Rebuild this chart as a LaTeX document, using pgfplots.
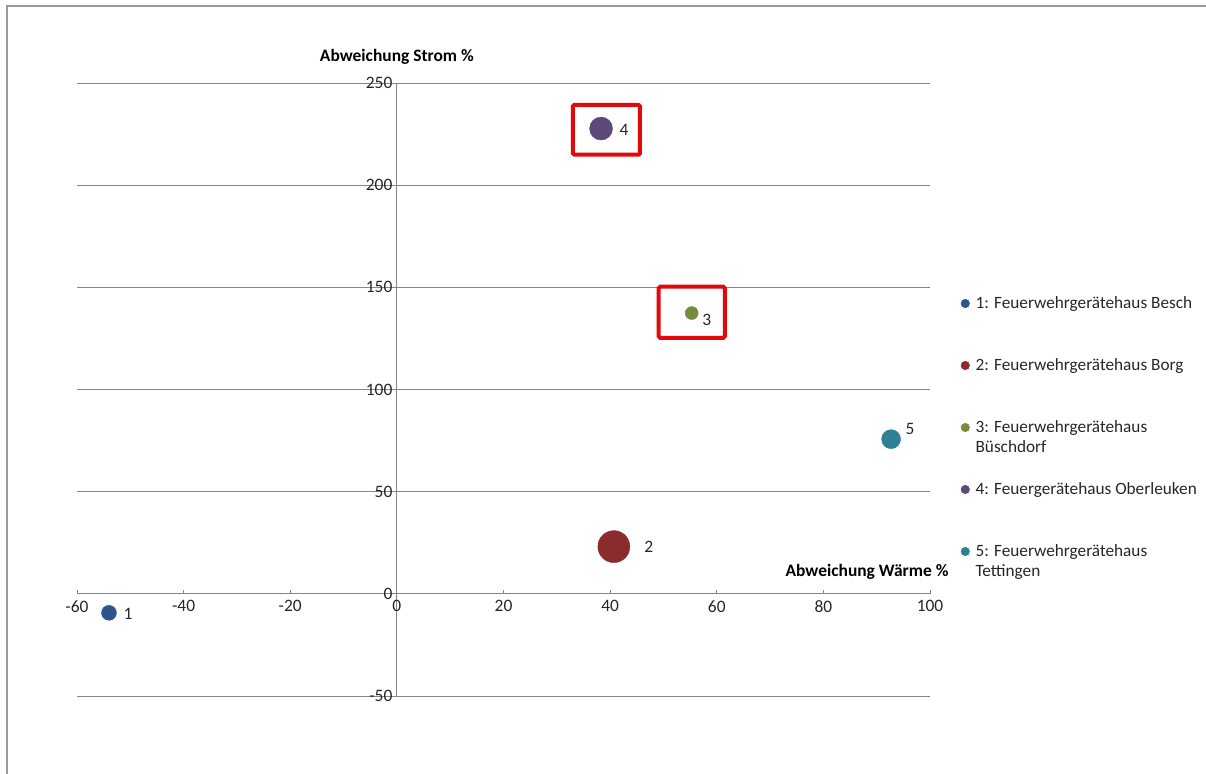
\documentclass[border=0pt]{standalone}
\usepackage{pgfplots}
\pgfplotsset{compat=1.18}
\usepackage{fontspec}
\setmainfont{Carlito}
\definecolor{gridgray}{RGB}{134,134,134}
\definecolor{cA}{RGB}{46,84,139}
\definecolor{cB}{RGB}{138,44,44}
\definecolor{cC}{RGB}{118,140,60}
\definecolor{cD}{RGB}{94,72,122}
\definecolor{cE}{RGB}{46,128,146}
\definecolor{boxred}{RGB}{226,8,12}
\begin{document}
\begin{tikzpicture}
\begin{axis}[
  scale only axis, width=853bp, height=613bp,
  xmin=-60, xmax=100, ymin=-50, ymax=250,
  axis lines=middle,
  axis line style={draw=gridgray, line width=0.8bp, -},
  xtick={-60,-40,...,100}, ytick={-50,0,...,250},
  hide obscured x ticks=false, hide obscured y ticks=false,
  ymajorgrids, grid style={gridgray, line width=0.8bp},
  xtick style={draw=gridgray, line width=0.8bp},
  ytick style={draw=none},
  xtick align=inside, major tick length=4bp,
  /pgf/number format/assume math mode=true,
  ticklabel style={font=\fontsize{17.5}{20}\selectfont, text=black!85},
  xticklabel style={yshift=-3bp},
  yticklabel style={xshift=1bp},
  clip=false,
  legend style={at={(rel axis cs:1.0363,0.6509)}, anchor=north west, draw=none, fill=none,
    inner sep=0pt, outer sep=0pt, row sep=6bp, column sep=6bp,
    font=\fontsize{17.3}{21}\selectfont,
    nodes={anchor=base west, inner sep=0pt, outer sep=0pt, text height=11bp, text depth=45bp, text=black!85}},
  legend image code/.code={\draw[#1, mark size=4.3bp] plot coordinates {(0bp,4.5bp)};},
  every node near coord/.append style={font=\fontsize{17.5}{20}\selectfont, text=black!85, anchor=center},
]
\addplot[only marks, mark=*, color=cA, mark size=7.5bp, nodes near coords={1},
  every node near coord/.append style={xshift=19bp, yshift=-1bp}] coordinates {(-54.0,-9.3)};
\addlegendentry{1: Feuerwehrgerätehaus Besch}
\addplot[only marks, mark=*, color=cB, mark size=16bp, nodes near coords={2},
  every node near coord/.append style={xshift=35bp, yshift=0bp}] coordinates {(40.7,23.1)};
\addlegendentry{2: Feuerwehrgerätehaus Borg}
\addplot[only marks, mark=*, color=cC, mark size=6.5bp, nodes near coords={3},
  every node near coord/.append style={xshift=15bp, yshift=-7bp}] coordinates {(55.3,137.4)};
\addlegendentry{\begin{tabular}[t]{@{}l@{}}3: Feuerwehrgerätehaus\\Büschdorf\end{tabular}}
\addplot[only marks, mark=*, color=cD, mark size=11.5bp, nodes near coords={4},
  every node near coord/.append style={xshift=23bp, yshift=-1bp}] coordinates {(38.3,227.7)};
\addlegendentry{4: Feuergerätehaus Oberleuken}
\addplot[only marks, mark=*, color=cE, mark size=9.5bp, nodes near coords={5},
  every node near coord/.append style={xshift=19bp, yshift=10bp}] coordinates {(92.7,75.7)};
\addlegendentry{\begin{tabular}[t]{@{}l@{}}5: Feuerwehrgerätehaus\\Tettingen\end{tabular}}
\draw[boxred, line width=4bp, rounded corners=1.5bp] (axis cs:33.0,239.3) rectangle (axis cs:45.6,214.9);
\draw[boxred, line width=4bp, rounded corners=1.5bp] (axis cs:49.1,150.3) rectangle (axis cs:61.5,125.3);
\node[font=\bfseries\fontsize{17.5}{20}\selectfont, text=black] at (axis cs:0,250) [yshift=26bp] {Abweichung Strom \%};
\node[font=\bfseries\fontsize{17.5}{20}\selectfont, text=black, anchor=east] at (axis cs:100,0) [xshift=22bp, yshift=22bp] {Abweichung Wärme \%};
\end{axis}
\draw[gray!80, line width=1.2bp] (-70bp,-78bp) -- (-70bp,690bp) -- (1129bp,690bp);
\pgfresetboundingbox
\path (-77bp,-78bp) rectangle (1129bp,696bp);
\end{tikzpicture}
\end{document}
